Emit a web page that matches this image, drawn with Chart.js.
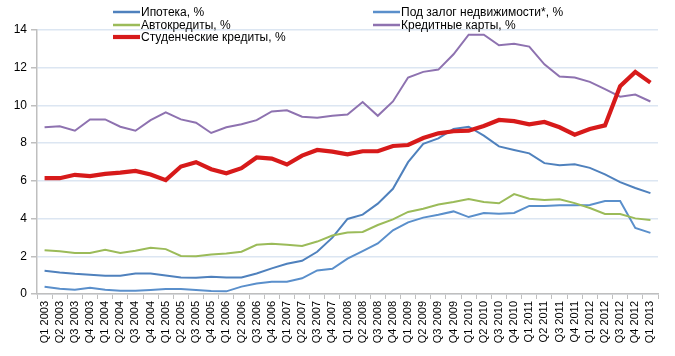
<!DOCTYPE html>
<html>
<head>
<meta charset="utf-8">
<script src="https://cdn.jsdelivr.net/npm/chart.js@4.4.1/dist/chart.umd.min.js"></script>
<style>
html,body{margin:0;padding:0;background:#fff;}
#wrap{width:675px;height:356px;position:relative;}
</style>
</head>
<body>
<div id="wrap"><canvas id="c" width="675" height="356"></canvas></div>
<script>
const quarters = [
"Q1 2003","Q2 2003","Q3 2003","Q4 2003","Q1 2004","Q2 2004","Q3 2004","Q4 2004",
"Q1 2005","Q2 2005","Q3 2005","Q4 2005","Q1 2006","Q2 2006","Q3 2006","Q4 2006",
"Q1 2007","Q2 2007","Q3 2007","Q4 2007","Q1 2008","Q2 2008","Q3 2008","Q4 2008",
"Q1 2009","Q2 2009","Q3 2009","Q4 2009","Q1 2010","Q2 2010","Q3 2010","Q4 2010",
"Q1 2011","Q2 2011","Q3 2011","Q4 2011","Q1 2012","Q2 2012","Q3 2012","Q4 2012","Q1 2013"];

const seriesNames = ["Ипотека, %","Автокредиты, %","Студенческие кредиты, %","Под залог недвижимости*, %","Кредитные карты, %"];

const mortgage = [1.23,1.14,1.07,1.02,0.97,0.97,1.09,1.09,0.98,0.88,0.86,0.92,0.88,0.88,1.09,1.36,
1.6,1.76,2.24,2.99,3.98,4.21,4.79,5.58,6.99,7.96,8.25,8.75,8.87,8.4,7.83,7.64,
7.46,6.94,6.83,6.88,6.69,6.34,5.93,5.62,5.35];

const homeEquity = [0.39,0.28,0.23,0.33,0.22,0.17,0.17,0.21,0.26,0.26,0.21,0.16,0.14,0.39,0.56,0.65,
0.65,0.83,1.25,1.34,1.88,2.27,2.68,3.38,3.80,4.05,4.2,4.38,4.08,4.3,4.26,4.3,
4.67,4.67,4.7,4.7,4.72,4.93,4.93,3.5,3.24];

const autoLoans = [2.32,2.27,2.17,2.17,2.34,2.17,2.29,2.45,2.38,2.02,2.0,2.1,2.15,2.24,2.61,2.66,
2.61,2.55,2.78,3.1,3.26,3.29,3.66,3.96,4.35,4.52,4.75,4.88,5.04,4.88,4.81,5.3,
5.05,4.98,5.02,4.82,4.56,4.24,4.24,4.01,3.93];

const studentLoans = [6.14,6.14,6.32,6.25,6.37,6.44,6.53,6.34,6.04,6.76,6.99,6.62,6.4,6.67,7.24,7.18,
6.87,7.34,7.64,7.55,7.41,7.57,7.57,7.85,7.9,8.27,8.52,8.63,8.66,8.91,9.23,9.17,
9.0,9.12,8.84,8.45,8.75,8.94,11.02,11.78,11.21];

const creditCards = [8.84,8.89,8.66,9.26,9.26,8.87,8.66,9.22,9.63,9.26,9.08,8.54,8.84,9.0,9.22,9.68,
9.74,9.40,9.35,9.45,9.52,10.18,9.45,10.21,11.48,11.78,11.9,12.71,13.75,13.75,13.19,13.27,
13.12,12.18,11.53,11.48,11.25,10.86,10.46,10.58,10.21];

const yTicks = [0,2,4,6,8,10,12,14];

const FONT = "'Liberation Sans', Arial, sans-serif";

const colors = {
  mortgage: "#4F81BD",
  auto: "#9BBB59",
  student: "#D71A1A",
  he: "#5A8FCB",
  cards: "#8E72B0"
};

const datasets = [
  {label: seriesNames[0], data: mortgage, borderColor: colors.mortgage, borderWidth: 2, order: 3},
  {label: seriesNames[1], data: autoLoans, borderColor: colors.auto, borderWidth: 2, order: 2},
  {label: seriesNames[2], data: studentLoans, borderColor: colors.student, borderWidth: 4.2, order: 0},
  {label: seriesNames[3], data: homeEquity, borderColor: colors.he, borderWidth: 2, order: 4},
  {label: seriesNames[4], data: creditCards, borderColor: colors.cards, borderWidth: 2, order: 1}
].map(d => Object.assign(d, {fill: false, pointRadius: 0, pointHoverRadius: 0, tension: 0, backgroundColor: d.borderColor}));

const legendPlugin = {
  id: 'customLegend',
  afterDraw(chart) {
    const ctx = chart.ctx;
    const pos = [[113,12],[113,25],[113,37],[373,12],[373,25]];
    ctx.save();
    ctx.font = "12px " + FONT;
    ctx.textBaseline = "middle";
    ctx.textAlign = "left";
    chart.data.datasets.forEach((ds, i) => {
      const [x, y] = pos[i];
      ctx.strokeStyle = ds.borderColor;
      ctx.lineWidth = ds.borderWidth > 3 ? 4.2 : 2.5;
      ctx.beginPath();
      ctx.moveTo(x, y);
      ctx.lineTo(x + 27, y);
      ctx.stroke();
      ctx.fillStyle = "#000";
      ctx.fillText(ds.label, x + 28, y + 0.5);
    });
    ctx.restore();
  }
};

new Chart(document.getElementById('c'), {
  type: 'line',
  data: {labels: quarters, datasets: datasets},
  options: {
    responsive: false,
    animation: false,
    devicePixelRatio: 1,
    layout: {padding: {top: 30, right: 17, left: 0, bottom: 0}},
    plugins: {legend: {display: false}, tooltip: {enabled: false}},
    scales: {
      x: {
        offset: true,
        grid: {offset: true, drawOnChartArea: false, tickLength: 5, tickColor: "#BFBFBF", color: "#BFBFBF"},
        border: {color: "#BFBFBF", width: 1.5},
        ticks: {autoSkip: false, minRotation: 90, maxRotation: 90, padding: 2, color: "#000", font: {family: FONT, size: 11}},
        afterFit(scale) { scale.height = 62; }
      },
      y: {
        min: 0, max: 14,
        afterBuildTicks(scale) { scale.ticks = yTicks.map(v => ({value: v})); },
        grid: {color: "#DCE6F2", lineWidth: 1.5, tickLength: 6, tickColor: "#BFBFBF"},
        border: {color: "#BFBFBF", width: 1.5},
        ticks: {padding: 4, color: "#000", font: {family: FONT, size: 12}},
        afterFit(scale) { scale.width = 37; }
      }
    }
  },
  plugins: [legendPlugin]
});
</script>
</body>
</html>
